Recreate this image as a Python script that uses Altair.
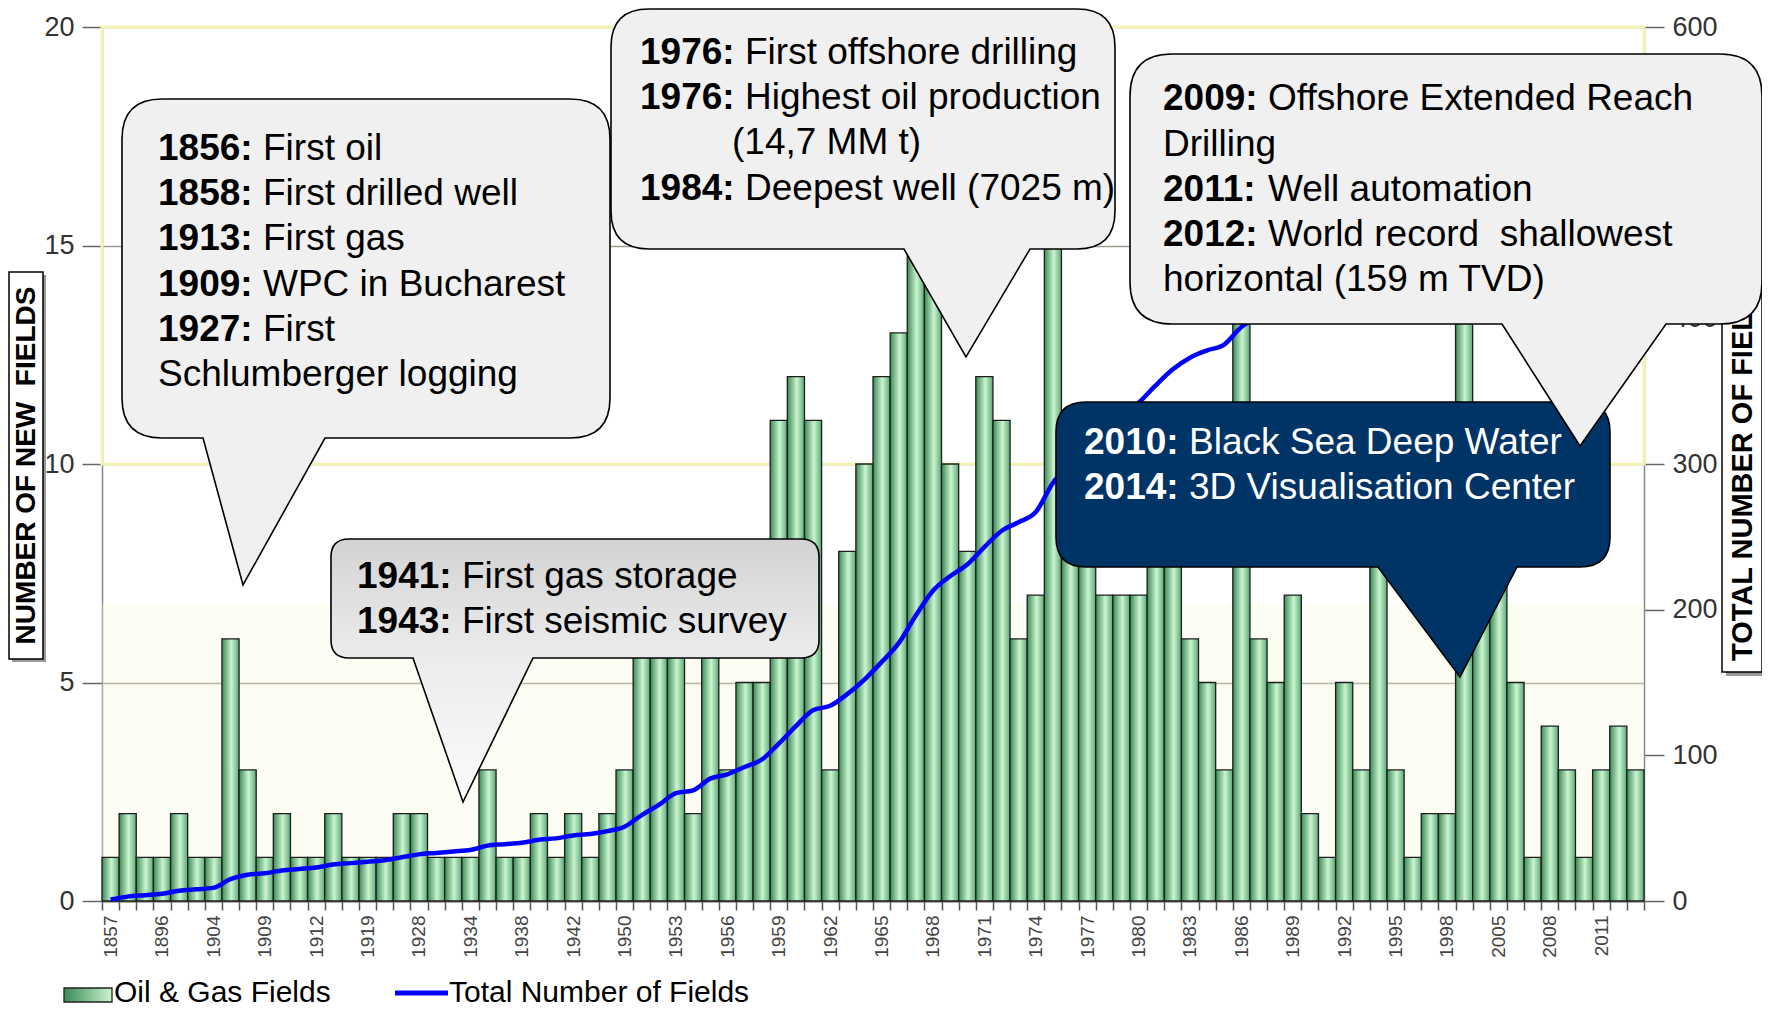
import json
import altair as alt
import pandas as pd

# ---------------- data ----------------
years = ["1857", "1861", "1880", "1896", "1900", "1902", "1904", "1906", "1907", "1909",
         "1910", "1911", "1912", "1914", "1916", "1919", "1924", "1926", "1928", "1930",
         "1932", "1934", "1935", "1936", "1938", "1939", "1941", "1942", "1944", "1948",
         "1950", "1951", "1952", "1953", "1954", "1955", "1956", "1957", "1958", "1959",
         "1960", "1961", "1962", "1963", "1964", "1965", "1966", "1967", "1968", "1969",
         "1970", "1971", "1972", "1973", "1974", "1975", "1976", "1977", "1978", "1979",
         "1980", "1981", "1982", "1983", "1984", "1985", "1986", "1987", "1988", "1989",
         "1990", "1991", "1992", "1993", "1994", "1995", "1996", "1997", "1998", "2001",
         "2003", "2005", "2006", "2007", "2008", "2009", "2010", "2011", "2012", "2013"]

new_fields = [1, 2, 1, 1, 2, 1, 1, 6, 3, 1,
              2, 1, 1, 2, 1, 1, 1, 2, 2, 1,
              1, 1, 3, 1, 1, 2, 1, 2, 1, 2,
              3, 8, 7, 8, 2, 8, 3, 5, 5, 11,
              12, 11, 3, 8, 10, 12, 13, 19, 17, 10,
              8, 12, 11, 6, 7, 17, 10, 10, 7, 7,
              7, 11, 10, 6, 5, 3, 15, 6, 5, 7,
              2, 1, 5, 3, 9, 3, 1, 2, 2, 16,
              9, 9, 5, 1, 4, 3, 1, 3, 4, 3]

total_fields = [1, 3, 4, 5, 7, 8, 9, 15, 18, 19,
                21, 22, 23, 25, 26, 27, 28, 30, 32, 33,
                34, 35, 38, 39, 40, 42, 43, 45, 46, 48,
                51, 59, 66, 74, 76, 84, 87, 92, 97, 108,
                120, 131, 134, 142, 152, 164, 177, 196, 213, 223,
                231, 243, 254, 260, 267, 287, 300, 313, 323, 333,
                342, 354, 365, 373, 378, 382, 394, 401, 406, 413,
                415, 416, 421, 424, 433, 436, 437, 439, 441, 457,
                466, 475, 480, 481, 485, 488, 489, 492, 496, 499]

labeled_years = ["1857", "1896", "1904", "1909", "1912", "1919", "1928", "1934", "1938", "1942",
                 "1950", "1953", "1956", "1959", "1962", "1965", "1968", "1971", "1974", "1977",
                 "1980", "1983", "1986", "1989", "1992", "1995", "1998", "2005", "2008", "2011"]

left_ticks = [0, 5, 10, 15, 20]
right_ticks = [0, 100, 200, 300, 400, 500, 600]

left_title = "NUMBER OF NEW\u00a0 FIELDS"
right_title = "TOTAL NUMBER OF FIELDS"
legend_bar = "Oil & Gas Fields"
legend_line = "Total Number of Fields"

c1_lines = [("1856:", "First oil"), ("1858:", "First drilled well"), ("1913:", "First gas"),
            ("1909:", "WPC in Bucharest"), ("1927:", "First"), ("", "Schlumberger logging")]
c2_lines = [("1976:", "First offshore drilling"), ("1976:", "Highest oil production"),
            ("", "(14,7 MM t)"), ("1984:", "Deepest well (7025 m)")]
c3_lines = [("2009:", "Offshore Extended Reach"), ("", "Drilling"), ("2011:", "Well automation"),
            ("2012:", "World record\u00a0 shallowest"), ("", "horizontal (159 m TVD)")]
c4_lines = [("1941:", "First gas storage"), ("1943:", "First seismic survey")]
c5_lines = [("2010:", "Black Sea Deep Water"), ("2014:", "3D Visualisation Center")]

# ---------------- layout ----------------
W, H = 1542, 874
PAD = {"left": 94, "top": 19, "right": 118, "bottom": 107}
OX, OY = 8 + PAD["left"], 8 + PAD["top"]   # page position of plot origin
FONT = "Liberation Sans, Arial, sans-serif"
TXT = 37
STEP = 45.2
BOLD_OFF = 105


def px(x):
    return round(x - OX, 1)


def py(y):
    return round(y - OY, 1)


df = pd.DataFrame({"year": years, "new": new_fields, "total": total_fields})
one = pd.DataFrame({"k": [0]})

bar_grad = alt.LinearGradient(
    gradient="linear",
    stops=[alt.GradientStop(color="#3a8a57", offset=0),
           alt.GradientStop(color="#cbf5d0", offset=0.55),
           alt.GradientStop(color="#5ba976", offset=1)],
    x1=0, x2=1, y1=0, y2=0)

label_expr = "indexof(" + json.dumps(labeled_years) + ", datum.value) >= 0 ? datum.value : ''"

x_enc = alt.X(
    "year:N", sort=years,
    scale=alt.Scale(type="band", paddingInner=0, paddingOuter=0),
    axis=alt.Axis(title=None, labelExpr=label_expr, labelAngle=270, labelOverlap=False,
                  tickBand="extent", tickSize=9, tickColor="#555", tickWidth=1.5,
                  domainColor="#777", domainWidth=2, labelFont=FONT, labelFontSize=19,
                  labelColor="#444", labelPadding=5, grid=False))

bars = alt.Chart(df).mark_bar(fill=bar_grad, stroke="#1e1e1e", strokeWidth=1.3).encode(
    x=x_enc,
    y=alt.Y("new:Q", scale=alt.Scale(domain=[0, 20], nice=False),
            axis=alt.Axis(title=None, values=left_ticks, tickSize=20, tickColor="#666",
                          tickWidth=1.5, domainColor="#888", domainWidth=1.5,
                          grid=True, gridColor="#9d9d90", gridWidth=1.5,
                          labelFont=FONT, labelFontSize=27, labelColor="#333",
                          labelPadding=8)))

line = alt.Chart(df).mark_line(color="#0000ff", strokeWidth=4.5, interpolate="monotone").encode(
    x=x_enc,
    y=alt.Y("total:Q", scale=alt.Scale(domain=[0, 600], nice=False),
            axis=alt.Axis(title=None, orient="right", values=right_ticks, tickSize=20,
                          tickColor="#666", tickWidth=1.5, domainColor="#888",
                          domainWidth=1.5, grid=False, labelFont=FONT, labelFontSize=27,
                          labelColor="#333", labelPadding=8)))


def rect(x0, y0, x1, y1, **kw):
    return alt.Chart(one).mark_rect(**kw).encode(
        x=alt.value(px(x0)), x2=alt.value(px(x1)), y=alt.value(py(y0)), y2=alt.value(py(y1)))


def text(x, y, s, bold=False, color="#000", size=TXT, font=FONT, **kw):
    return alt.Chart(one).mark_text(text=s, font=font, fontSize=size,
                                    fontWeight="bold" if bold else "normal",
                                    color=color, **kw).encode(
        x=alt.value(px(x)), y=alt.value(py(y)))


def bubble_path(x0, y0, x1, y1, r, bl, br, tx, ty):
    X0, X1, BL, BR, TX = px(x0), px(x1), px(bl), px(br), px(tx)
    Y0, Y1, TY = py(y0), py(y1), py(ty)
    parts = [f"M{X0 + r},{Y0}", f"L{X1 - r},{Y0}", f"Q{X1},{Y0} {X1},{Y0 + r}",
             f"L{X1},{Y1 - r}", f"Q{X1},{Y1} {X1 - r},{Y1}", f"L{BR},{Y1}",
             f"L{TX},{TY}", f"L{BL},{Y1}", f"L{X0 + r},{Y1}",
             f"Q{X0},{Y1} {X0},{Y1 - r}", f"L{X0},{Y0 + r}", f"Q{X0},{Y0} {X0 + r},{Y0}", "Z"]
    return " ".join(parts)


def bubble(geom, fill, stroke="#000"):
    return alt.Chart(one).mark_point(shape=bubble_path(*geom), size=4, filled=True,
                                     fill=fill, stroke=stroke, strokeWidth=1.6,
                                     opacity=1, fillOpacity=1).encode(
        x=alt.value(0), y=alt.value(0))


def bubble_text(lines, x, y0, color="#000", indent=None):
    layers = []
    for i, (b, r) in enumerate(lines):
        y = y0 + i * STEP
        if b:
            layers.append(text(x, y, b, bold=True, color=color, align="left", baseline="middle"))
            layers.append(text(x + BOLD_OFF, y, r, color=color, align="left", baseline="middle"))
        else:
            xx = indent if (indent is not None and r.startswith("(")) else x
            layers.append(text(xx, y, r, color=color, align="left", baseline="middle"))
    return layers


c4_grad = alt.LinearGradient(
    gradient="linear",
    stops=[alt.GradientStop(color="#d3d3d3", offset=0),
           alt.GradientStop(color="#ececec", offset=0.45),
           alt.GradientStop(color="#fbfbfb", offset=1)],
    x1=0, x2=0, y1=0, y2=1)

layers = []
# plot-area tints
layers.append(rect(OX, 901 - 6.8 * 43.7, OX + W, 901, fill="#fbf9d8", opacity=0.3))
layers.append(rect(OX, OY, OX + W, OY + H / 2, fill="transparent", stroke="#f4f2b4", strokeWidth=3))
layers += [bars, line]

# axis title boxes
layers.append(rect(12, 275, 46, 662, fill="#9a9a9a"))
layers.append(rect(9, 272, 43, 659, fill="#ffffff", stroke="#000", strokeWidth=1.5))
layers.append(text(26.5, 465.5, left_title, bold=True, size=28, angle=270,
                   align="center", baseline="middle"))
layers.append(rect(1726, 240, 1766, 676, fill="#9a9a9a"))
layers.append(rect(1722, 236, 1762, 672, fill="#ffffff", stroke="#000", strokeWidth=1.5))
layers.append(text(1742.5, 661, right_title, bold=True, size=29, angle=270,
                   align="left", baseline="middle"))

# callouts
layers.append(bubble((122, 99, 610, 438, 40, 203, 325, 243, 585), "#f0f0f0"))
layers += bubble_text(c1_lines, 158, 149)
layers.append(bubble((611, 9, 1115, 249, 38, 904, 1030, 966, 357), "#f0f0f0"))
layers += bubble_text(c2_lines, 640, 53, indent=732)
layers.append(bubble((331, 539, 819, 658, 18, 413, 533, 463, 802), c4_grad))
layers += bubble_text(c4_lines, 357, 577)
layers.append(bubble((1056, 402, 1610, 567, 30, 1378, 1517, 1460, 677), "#003366"))
layers += bubble_text(c5_lines, 1084, 443, color="#ffffff")
layers.append(bubble((1130, 54, 1762, 324, 42, 1502, 1666, 1580, 446), "#f0f0f0"))
layers += bubble_text(c3_lines, 1163, 99.4)

# legend
leg_grad = alt.LinearGradient(
    gradient="linear",
    stops=[alt.GradientStop(color="#3a8a57", offset=0),
           alt.GradientStop(color="#cbf5d0", offset=1)],
    x1=0, x2=1, y1=0, y2=0)
layers.append(rect(64, 988, 112, 1002, fill=leg_grad, stroke="#222", strokeWidth=1.3))
layers.append(text(114, 1002, legend_bar, size=30, align="left", baseline="alphabetic"))
layers.append(alt.Chart(one).mark_rule(color="#0000ff", strokeWidth=5).encode(
    x=alt.value(px(395)), x2=alt.value(px(448)), y=alt.value(py(993)), y2=alt.value(py(993))))
layers.append(text(449, 1002, legend_line, size=30, align="left", baseline="alphabetic"))

chart = alt.layer(*layers).resolve_scale(y="independent").properties(
    width=W, height=H, padding=PAD, autosize=alt.AutoSizeParams(type="none"),
    background="#ffffff"
).configure_view(strokeWidth=0)

chart.save("out.html", embed_options={"renderer": "svg", "actions": False})
